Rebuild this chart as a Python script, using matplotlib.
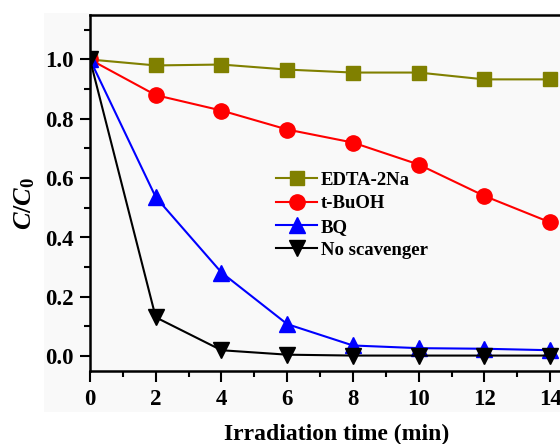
import matplotlib.pyplot as plt
from matplotlib.patches import Rectangle
from matplotlib.ticker import MultipleLocator

# Dados de fotodegradação com diferentes sequestrantes
tempo = [0, 2, 4, 6, 8, 10, 12, 14]
edta = [1.0, 0.980, 0.983, 0.966, 0.956, 0.956, 0.933, 0.933]
tbuoh = [1.0, 0.880, 0.828, 0.764, 0.720, 0.646, 0.540, 0.451]
bq = [1.0, 0.536, 0.282, 0.108, 0.036, 0.027, 0.025, 0.020]
sem = [1.0, 0.131, 0.020, 0.005, 0.002, 0.002, 0.002, 0.002]

plt.rcParams['font.family'] = ['Liberation Serif', 'DejaVu Serif']
plt.rcParams['font.weight'] = 'bold'
plt.rcParams['mathtext.fontset'] = 'custom'
plt.rcParams['mathtext.it'] = 'Liberation Serif:italic:bold'
plt.rcParams['mathtext.rm'] = 'Liberation Serif:bold'

fig = plt.figure(figsize=(5.6, 4.44), dpi=100)
fundo = '#f9f9f9'
fig.patches.append(Rectangle((44 / 560, 1 - 412 / 444), 1, (412 - 13) / 444,
                             transform=fig.transFigure, facecolor=fundo,
                             edgecolor='none', zorder=-10))
ax = fig.add_axes([90 / 560, 1 - 371 / 444, 0.8804, 356 / 444])
ax.set_facecolor(fundo)

ax.plot(tempo, edta, '-s', color='#808000', lw=1.5, ms=10, label='EDTA-2Na')
ax.plot(tempo, tbuoh, '-o', color='#ff0000', lw=1.5, ms=11, label='t-BuOH')
ax.plot(tempo, bq, '-^', color='#0000ff', lw=1.5, ms=11, label='BQ')
ax.plot(tempo, sem, '-v', color='black', lw=1.5, ms=11, label='No scavenger')

ax.set_xlim(0, 15)
ax.set_ylim(-0.05, 1.15)
ax.xaxis.set_major_locator(MultipleLocator(2))
ax.xaxis.set_minor_locator(MultipleLocator(1))
ax.yaxis.set_major_locator(MultipleLocator(0.2))
ax.yaxis.set_minor_locator(MultipleLocator(0.1))
ax.yaxis.set_major_formatter(plt.FuncFormatter(lambda v, p: f'{v:.1f}'))
ax.tick_params(which='both', direction='out', width=1.5, labelsize=16.5)
ax.tick_params(which='major', length=7)
ax.tick_params(which='minor', length=4)
ax.tick_params(axis='x', which='major', length=8, pad=5)
ax.tick_params(axis='y', which='major', pad=5)
for s in ax.spines.values():
    s.set_linewidth(1.8)

ax.set_xlabel('Irradiation time (min)', fontsize=17, fontweight='bold', labelpad=10)
ax.set_ylabel(r'$C/C_\mathrm{0}$', fontsize=19)
ax.yaxis.set_label_coords(-0.108, 0.47)

ax.legend(loc='upper left', bbox_to_anchor=(259 / 560, 1 - 155 / 444),
          bbox_transform=fig.transFigure, frameon=False, fontsize=13.5,
          handlelength=2.2, handletextpad=0.2, labelspacing=0.33)

fig.savefig('out.png', dpi=100, facecolor='white')
